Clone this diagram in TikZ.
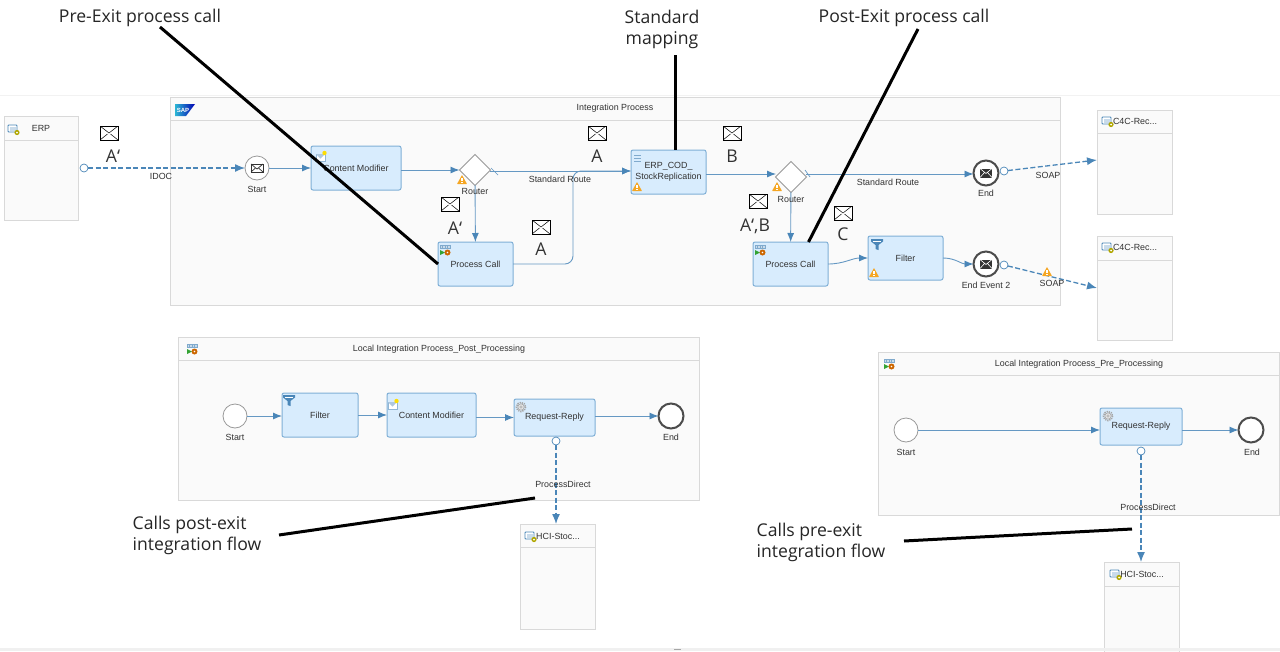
\documentclass[tikz,border=0pt]{standalone}
\usepackage{fontspec}
\setmainfont{Liberation Sans}
\newfontfamily\callfont{Open Sans}
\usetikzlibrary{arrows.meta}
\usetikzlibrary{shapes.geometric}
\definecolor{poolfill}{HTML}{FAFAFA}
\definecolor{poolline}{HTML}{D9D9D9}
\definecolor{taskfill}{HTML}{D8ECFD}
\definecolor{taskline}{HTML}{7FAFD6}
\definecolor{flowblue}{HTML}{4A86B8}
\definecolor{warnorange}{HTML}{F5A623}
\definecolor{labelgrey}{HTML}{333333}
\tikzset{
  pool/.style={draw=poolline, line width=1pt, fill=poolfill, inner sep=0, outer sep=0},
  headline/.style={draw=poolline, line width=1pt},
  task/.style={draw=taskline, line width=1pt, fill=taskfill, rounded corners=2pt, inner sep=0, outer sep=0, minimum width=75pt, minimum height=44pt, align=center, font=\fontsize{8.9}{10.5}\selectfont, text=labelgrey},
  startev/.style={circle, draw=gray!80, line width=0.8pt, fill=white, minimum size=24pt, inner sep=0, outer sep=0},
  endev/.style={circle, draw=black!70, line width=2pt, fill=white, minimum size=25pt, inner sep=0, outer sep=0},
  router/.style={diamond, draw=gray!80, line width=0.8pt, fill=white, minimum size=31pt, inner sep=0, outer sep=0},
  port/.style={circle, draw=flowblue, line width=0.7pt, fill=white, minimum size=8pt, inner sep=0, outer sep=0},
  flow/.style={draw=flowblue!85, line width=0.9pt, -{Latex[length=9pt,width=7pt,color=flowblue]}},
  dashflow/.style={draw=flowblue, line width=1.3pt, dash pattern=on 5pt off 2.5pt, -{Latex[length=10pt,width=8pt,color=flowblue]}},
  small/.style={font=\fontsize{8.9}{10.5}\selectfont, text=labelgrey, inner sep=0},
  callout/.style={font=\callfont\fontsize{17.6}{21}\selectfont, text=black!85, inner sep=0, align=left},
  letter/.style={font=\callfont\fontsize{17.6}{21}\selectfont, text=black!80, inner sep=0},
  pointer/.style={draw=black, line width=3pt},
  msg/.style={draw=black, line width=0.9pt, fill=white, minimum width=18pt, minimum height=14pt, inner sep=0,
    path picture={\draw[line width=0.5pt] (path picture bounding box.north west) -- (path picture bounding box.center) -- (path picture bounding box.north east);
      \draw[line width=0.5pt] (path picture bounding box.south west) -- ([shift={(-1.5pt,-1pt)}]path picture bounding box.center);
      \draw[line width=0.5pt] (path picture bounding box.south east) -- ([shift={(1.5pt,-1pt)}]path picture bounding box.center);}},
  warn/.pic={
    \fill[warnorange, rounded corners=0.5pt] (-5,4) -- (0,-5) -- (5,4) -- cycle;
    \fill[white] (-0.6,-1.8) rectangle (0.6,1.2);
    \fill[white] (-0.6,2) rectangle (0.6,3.2);
  },
  funnelicon/.pic={
    \fill[flowblue] (-6,-5) -- (6,-5) -- (6,-2.5) -- (1.5,1) -- (1.5,6) -- (-1.5,5) -- (-1.5,1) -- (-6,-2.5) -- cycle;
    \draw[white, line width=0.5pt] (-4,-3) -- (4,-3);
  },
  gearicon/.pic={
    \draw[gray!70, line width=1.6pt, dash pattern=on 1.2pt off 1pt] (0,0) circle (4.6);
    \draw[gray!70, fill=gray!20, line width=0.6pt] (0,0) circle (3.2);
    \draw[gray!70, fill=white, line width=0.5pt] (0,0) circle (1.3);
  },
  callicon/.pic={
    \draw[flowblue!70, fill=flowblue!30, line width=0.4pt] (-5,-6) rectangle (5,-2.5);
    \draw[flowblue!70, line width=0.4pt] (-2.5,-6) -- (-2.5,-2.5) (0,-6) -- (0,-2.5) (2.5,-6) -- (2.5,-2.5);
    \fill[green!55!black!80] (-5,-1) -- (0,1.5) -- (-5,4) -- cycle;
    \fill[orange!80!black] (2.5,1.5) circle (3);
    \fill[white] (2.5,1.5) circle (0.9);
  },
  modicon/.pic={
    \draw[flowblue!60, fill=white, line width=0.5pt] (-5,-2) rectangle (4,5);
    \fill[flowblue!45] (-5,-2) -- (-0.5,2.5) -- (4,-2) -- cycle;
    \fill[yellow!80!orange] (3.5,-3) circle (2.2);
  },
  listicon/.pic={
    \draw[flowblue!70, line width=0.7pt] (-4,-3) -- (3,-3) (-4,0) -- (3,0) (-4,3) -- (3,3);
  },
  sysicon/.pic={
    \draw[flowblue, fill=white, line width=0.9pt, rounded corners=0.8pt] (-5,-4) rectangle (4,3);
    \fill[flowblue!30] (-3.5,-2.5) rectangle (2.5,1.5);
    \fill[olive!70!yellow] (4,3.5) circle (2.6);
    \fill[white] (4,3.5) circle (1);
  },
  mailicon/.pic={
    \draw[black!80, fill=white, line width=0.7pt] (-6,-4) rectangle (6,4);
    \draw[black!80, line width=0.7pt] (-6,-4) -- (0,1) -- (6,-4) (-6,4) -- (-1.5,0) (6,4) -- (1.5,0);
  },
  mailblack/.pic={
    \fill[black!80] (-6,-4.5) rectangle (6,4.5);
    \draw[white, line width=0.6pt] (-6,-4.5) -- (0,0.5) -- (6,-4.5) (-6,4.5) -- (-1.5,-0.5) (6,4.5) -- (1.5,-0.5);
  }
}

\begin{document}
\begin{tikzpicture}[x=1pt,y=-1pt]
    \useasboundingbox (0,0) rectangle (1280,651);
    \fill[white] (0,0) rectangle (1280,651);
    \fill[black!5] (0,94.5) rectangle (1280,95.5);

    % pools
    \node[pool, minimum width=74pt, minimum height=104pt] (ERP) at (41,168) {};
    \node[pool, minimum width=890pt, minimum height=208pt] (IP) at (615,201) {};
    \node[pool, minimum width=75pt, minimum height=104pt] (C4Ca) at (1134.5,162) {};
    \node[pool, minimum width=75pt, minimum height=104pt] (C4Cb) at (1134.5,288) {};
    \node[pool, minimum width=521pt, minimum height=163pt] (POST) at (438.5,418.5) {};
    \node[pool, minimum width=401pt, minimum height=163pt] (PRE) at (1078.5,433.5) {};
    \node[pool, minimum width=75pt, minimum height=105pt] (HCIa) at (557.5,576.5) {};
    \node[pool, minimum width=75pt, minimum height=105pt] (HCIb) at (1141.5,614.5) {};
    \fill[black!6] (0,648) rectangle (1280,651);
    \node[fill=gray!70, minimum width=7pt, minimum height=1.5pt, inner sep=0] (handle) at (677,649.5) {};
    \draw[headline] ([yshift=-24pt]ERP.north west) -- ([yshift=-24pt]ERP.north east);
    \draw[headline] ([yshift=-23pt]IP.north west) -- ([yshift=-23pt]IP.north east);
    \draw[headline] ([yshift=-23pt]C4Ca.north west) -- ([yshift=-23pt]C4Ca.north east);
    \draw[headline] ([yshift=-24pt]C4Cb.north west) -- ([yshift=-24pt]C4Cb.north east);
    \draw[headline] ([yshift=-23pt]POST.north west) -- ([yshift=-23pt]POST.north east);
    \draw[headline] ([yshift=-23pt]PRE.north west) -- ([yshift=-23pt]PRE.north east);
    \draw[headline] ([yshift=-23pt]HCIa.north west) -- ([yshift=-23pt]HCIa.north east);
    \draw[headline] ([yshift=-24pt]HCIb.north west) -- ([yshift=-24pt]HCIb.north east);

    % main process
    \node[startev] (S1) at (257,168) {};
    \node[task, minimum width=90pt] (CM1) at (356,168) {Content Modifier};
    \node[router] (R1) at (475,170) {};
    \node[task] (PC1) at (475.5,264) {Process Call};
    \node[task] (MAP) at (668.5,172) {ERP\_COD\_\\StockReplication};
    \node[router] (R2) at (791,177) {};
    \node[task] (PC2) at (790.5,264) {Process Call};
    \node[task] (FLT) at (905.5,258) {Filter};
    \node[endev] (E1) at (986,173) {};
    \node[endev] (E2) at (986,264) {};
    \coordinate (J1) at (573,171);
    \coordinate (R1out) at (490,171);
    \coordinate (R2in) at (776,174);
    \coordinate (R2out) at (806,174);
    \node[port] (PA) at (84,168) {};
    \node[port] (PB) at (1004,171) {};
    \node[port] (PC) at (1004,265) {};
    \coordinate (INa) at (1097,160);
    \coordinate (INb) at (1097,288);

    % post and pre
    \node[startev] (S2) at (235,416) {};
    \node[task, minimum width=76pt] (FLT2) at (320,415) {Filter};
    \node[task, minimum width=89pt] (CM2) at (431.5,415) {Content Modifier};
    \node[task, minimum width=81pt, minimum height=37pt] (RR1) at (554.5,417.5) {Request-Reply};
    \node[endev] (E3) at (671,416) {};
    \node[port] (P1) at (556,441) {};
    \node[startev] (S3) at (906,430) {};
    \node[task, minimum width=82pt, minimum height=37pt] (RR2) at (1141,426.5) {Request-Reply};
    \node[endev] (E4) at (1251,430) {};
    \node[port] (P2) at (1141,451) {};

    \path (S1) edge [flow] (CM1);
    \path (CM1.east |- R1) edge [flow] (R1);
    \path (R1) edge [flow] (PC1);
    \path (R1out) edge [flow] (MAP.west |- R1out);
    \draw [flow, rounded corners=8pt] (PC1.east) -| (J1) -- (MAP.west |- J1);
    \path (MAP.east |- R2in) edge [flow] (R2in);
    \path (R2) edge [flow] (PC2);
    \path (R2out) edge [flow] (E1.west |- R2out);
    \draw [flow] (PC2.east) to[out=0,in=180] (FLT.west);
    \draw [flow] (FLT.east) to[out=0,in=180] (E2.west);
    \draw [draw=flowblue!85, line width=0.7pt] (R1out) ++(1,-3) -- ++(7,7);
    \draw [draw=flowblue!85, line width=0.7pt] (R2out) ++(-1,-4) -- ++(5,7);
    \path (S2) edge [flow] (FLT2.west |- S2);
    \path (FLT2) edge [flow] (CM2);
    \path (CM2.east |- RR1) edge [flow] (RR1);
    \path (RR1.east |- E3) edge [flow] (E3);
    \path (S3) edge [flow] (RR2.west |- S3);
    \path (RR2.east |- E4) edge [flow] (E4);
    \path (PA) edge [dashflow] (S1);
    \path (PB) edge [dashflow] (INa);
    \path (PC) edge [dashflow] (INb);
    \path (P1) edge [dashflow] (HCIa.north -| P1);
    \path (P2) edge [dashflow] (HCIb.north -| P2);

    % icons
    \pic at (257,168) {mailicon};
    \pic at (986,173) {mailblack};
    \pic at (986,264) {mailblack};
    \pic at (321,156) {modicon};
    \pic at (393,404) {modicon};
    \pic at (445,251) {callicon};
    \pic at (760,251) {callicon};
    \pic at (192,350) {callicon};
    \pic at (889,365) {callicon};
    \pic at (638,158) {listicon};
    \pic at (877,244) {funnelicon};
    \pic at (289,400) {funnelicon};
    \pic at (521,407) {gearicon};
    \pic at (1108,416) {gearicon};
    \pic at (13,129) {sysicon};
    \pic at (1107,121) {sysicon};
    \pic at (1107,247) {sysicon};
    \pic at (530,536) {sysicon};
    \pic at (1115,574) {sysicon};
    \pic at (462,180) {warn};
    \pic at (637,187) {warn};
    \pic at (777,187) {warn};
    \pic at (874,273) {warn};
    \pic at (1047,272) {warn};
    \shade[left color=flowblue!60!cyan, right color=blue!70!black] (175,104) -- (195,104) -- (186,116) -- (175,116) -- cycle;
    \node[font=\bfseries\fontsize{6}{6}\selectfont, text=white, inner sep=0] (SAP) at (183,110) {SAP};

    % small labels
    \node[small] (tERP) at (41,128) {ERP};
    \node[small] (tIP) at (615,108) {Integration Process};
    \node[small] (tC4Ca) at (1135,121) {C4C-Rec...};
    \node[small] (tC4Cb) at (1135,247) {C4C-Rec...};
    \node[small] (tHCIa) at (558,536) {HCI-Stoc...};
    \node[small] (tHCIb) at (1142,574) {HCI-Stoc...};
    \node[small] (tPOST) at (439,349) {Local Integration Process\_Post\_Processing};
    \node[small] (tPRE) at (1079,364) {Local Integration Process\_Pre\_Processing};
    \node[small] (tIDOC) at (161,176) {IDOC};
    \node[small] (tS1) at (257,189) {Start};
    \node[small] (tR1) at (475,191) {Router};
    \node[small] (tSR1) at (560,179) {Standard Route};
    \node[small] (tR2) at (791,199) {Router};
    \node[small] (tSR2) at (888,182) {Standard Route};
    \node[small] (tE1) at (986,193) {End};
    \node[small] (tE2) at (986,285) {End Event 2};
    \node[small] (tSOAPa) at (1048,175) {SOAP};
    \node[small] (tSOAPb) at (1052,283) {SOAP};
    \node[small] (tS2) at (235,437) {Start};
    \node[small] (tE3) at (671,437) {End};
    \node[small] (tPDa) at (563,484) {ProcessDirect};
    \node[small] (tS3) at (906,452) {Start};
    \node[small] (tE4) at (1252,452) {End};
    \node[small] (tPDb) at (1148,507) {ProcessDirect};

    % messages
    \node[msg] (M1) at (109,133) {};
    \node[letter] (L1) at (113,156) {A‘};
    \node[msg] (M2) at (450,204) {};
    \node[letter] (L2) at (455,228) {A‘};
    \node[msg] (M3) at (541,227) {};
    \node[letter] (L3) at (541,249) {A};
    \node[msg] (M4) at (597,133) {};
    \node[letter] (L4) at (597,156) {A};
    \node[msg] (M5) at (732,133) {};
    \node[letter] (L5) at (732,156) {B};
    \node[msg] (M6) at (758,201) {};
    \node[letter] (L6) at (755,226) {A‘,B};
    \node[msg] (M7) at (843,213) {};
    \node[letter] (L7) at (843,234) {C};

    % callouts
    \node[callout] (PRECALL) at (140,18) {Pre-Exit process call};
    \node[callout, align=center] (STD) at (662,29.5) {Standard\\mapping};
    \node[callout] (POSTCALL) at (904,18) {Post-Exit process call};
    \node[callout] (CALLPOST) at (197,535.5) {Calls post-exit\\integration flow};
    \node[callout] (CALLPRE) at (821,542) {Calls pre-exit\\integration flow};
    \coordinate (a1) at (160,27);
    \coordinate (a2) at (675,55);
    \coordinate (a3) at (918,29);
    \coordinate (a4) at (279,535);
    \coordinate (a5) at (535,498);
    \coordinate (a6) at (904,541);
    \coordinate (a7) at (1132,529);
    \draw[pointer] (a1) -- (PC1.west);
    \draw[pointer] (a2) -- (MAP.north -| a2);
    \draw[pointer] (a3) -- ([xshift=18pt]PC2.north);
    \draw[pointer] (a4) -- (a5);
    \draw[pointer] (a6) -- (a7);
  \end{tikzpicture}
\end{document}
